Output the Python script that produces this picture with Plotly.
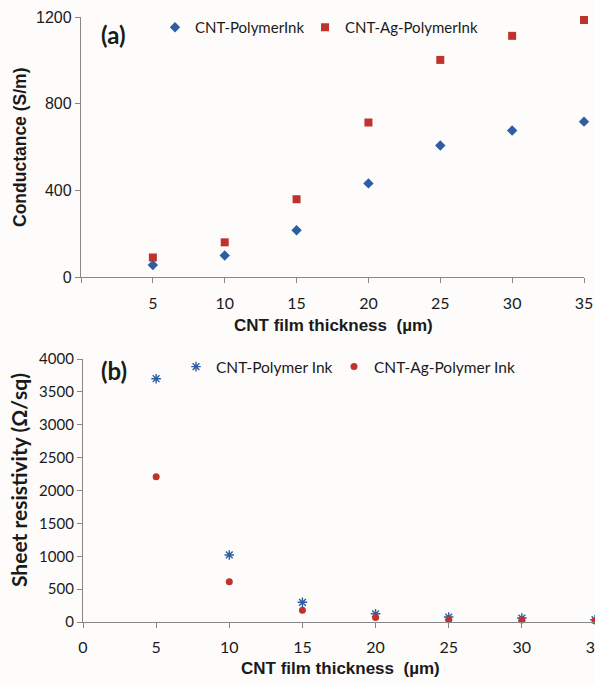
import plotly.graph_objects as go

# ---------------- data ----------------
thickness = [5, 10, 15, 20, 25, 30, 35]
cond_cnt = [55, 99, 216, 432, 607, 676, 717]
cond_ag = [90, 160, 359, 713, 1002, 1113, 1186]
res_cnt = [3700, 1020, 300, 125, 75, 60, 35]
res_ag = [2210, 612, 180, 70, 35, 30, 18]

xa_tickvals = [0, 5, 10, 15, 20, 25, 30, 35]
xa_ticktext = ["", "5", "10", "15", "20", "25", "30", "35"]
xb_tickvals = [0, 5, 10, 15, 20, 25, 30, 35]
xb_ticktext = ["0", "5", "10", "15", "20", "25", "30", "35"]
ya_tickvals = [0, 400, 800, 1200]
yb_tickvals = [0, 500, 1000, 1500, 2000, 2500, 3000, 3500, 4000]

name_a1, name_a2 = "CNT-PolymerInk", "CNT-Ag-PolymerInk"
name_b1, name_b2 = "CNT-Polymer Ink", "CNT-Ag-Polymer Ink"

BLUE = "#2F5DA3"
RED = "#BF322D"
AX = "#878787"
TXT = "#1a1a1a"
BG = "#fdfcfa"
CAL = "Lato, 'Open Sans', sans-serif"
ARI = "'Liberation Sans', Arial, sans-serif"

W, H = 595, 683

fig = go.Figure()

fig.add_trace(go.Scatter(x=thickness, y=cond_cnt, mode="markers", name=name_a1,
                         marker=dict(symbol="diamond", size=8, color=BLUE),
                         xaxis="x", yaxis="y", legend="legend", cliponaxis=False))
fig.add_trace(go.Scatter(x=thickness, y=cond_ag, mode="markers", name=name_a2,
                         marker=dict(symbol="square", size=8, color=RED),
                         xaxis="x", yaxis="y", legend="legend2", cliponaxis=False))
fig.add_trace(go.Scatter(x=thickness, y=res_cnt, mode="markers", name=name_b1,
                         marker=dict(symbol="asterisk-open", size=8, color=BLUE,
                                     line=dict(color=BLUE, width=1.4)),
                         xaxis="x2", yaxis="y2", legend="legend3", cliponaxis=False))
fig.add_trace(go.Scatter(x=thickness, y=res_ag, mode="markers", name=name_b2,
                         marker=dict(symbol="circle", size=7, color=RED),
                         xaxis="x2", yaxis="y2", legend="legend4", cliponaxis=False))


def px_x(p):
    return p / W


def px_y(p):
    return 1 - p / H


common_axis = dict(showgrid=False, zeroline=False, showline=True, linecolor=AX,
                   linewidth=1.3, ticks="outside", tickcolor=AX, ticklen=5,
                   tickwidth=1.3)


def leg(xp, yp, size):
    return dict(orientation="h", x=px_x(xp), y=px_y(yp), xanchor="left", yanchor="top",
                bgcolor="rgba(0,0,0,0)", font=dict(family=CAL, size=size, color=TXT),
                itemwidth=30)


fig.update_layout(
    width=W, height=H,
    margin=dict(l=0, r=0, t=0, b=0, autoexpand=False),
    paper_bgcolor=BG, plot_bgcolor=BG,
    showlegend=True,
    xaxis=dict(domain=[px_x(81), px_x(584)], range=[0, 35], anchor="y",
               tickvals=xa_tickvals, ticktext=xa_ticktext, ticklabelstandoff=7,
               ticklabeloverflow="allow",
               tickfont=dict(family=CAL, size=16, color=TXT), **common_axis),
    yaxis=dict(domain=[px_y(277), px_y(17)], range=[0, 1200], anchor="x",
               tickvals=ya_tickvals,
               tickfont=dict(family=ARI, size=16, color=TXT), **common_axis),
    xaxis2=dict(domain=[px_x(83), 1.0], range=[0, 35], anchor="y2",
                tickvals=xb_tickvals, ticktext=xb_ticktext, ticklabelstandoff=6,
                ticklabeloverflow="allow",
                tickfont=dict(family=CAL, size=16, color=TXT), **common_axis),
    yaxis2=dict(domain=[px_y(622), px_y(359)], range=[0, 4000], anchor="x2",
                tickvals=yb_tickvals,
                tickfont=dict(family=CAL, size=15, color=TXT), **common_axis),
    legend=leg(155, 11, 15),
    legend2=leg(305, 11, 15),
    legend3=leg(176, 350, 15.5),
    legend4=leg(334, 350, 15.5),
    annotations=[
        dict(text="<b>(a)</b>", x=px_x(99), y=px_y(34), xref="paper", yref="paper",
             xanchor="left", yanchor="middle", showarrow=False,
             font=dict(family=CAL, size=24, color=TXT)),
        dict(text="<b>(b)</b>", x=px_x(99), y=px_y(370), xref="paper", yref="paper",
             xanchor="left", yanchor="middle", showarrow=False,
             font=dict(family=CAL, size=24, color=TXT)),
        dict(text="<b>CNT film thickness  (µm)</b>", x=px_x(333), y=px_y(325), xref="paper",
             yref="paper", xanchor="center", yanchor="middle", showarrow=False,
             font=dict(family=ARI, size=17, color=TXT)),
        dict(text="<b>CNT film thickness  (µm)</b>", x=px_x(340), y=px_y(668), xref="paper",
             yref="paper", xanchor="center", yanchor="middle", showarrow=False,
             font=dict(family=ARI, size=17, color=TXT)),
        dict(text="<b>Conductance (S/m)</b>", x=px_x(20), y=px_y(148), xref="paper",
             yref="paper", xanchor="center", yanchor="middle", showarrow=False,
             textangle=-90, font=dict(family=ARI, size=17.5, color=TXT)),
        dict(text="<b>Sheet resistivity (Ω/sq)</b>", x=px_x(18), y=px_y(480), xref="paper",
             yref="paper", xanchor="center", yanchor="middle", showarrow=False,
             textangle=-90, font=dict(family=CAL, size=21, color=TXT)),
    ],
)

fig.write_html("out.html")
